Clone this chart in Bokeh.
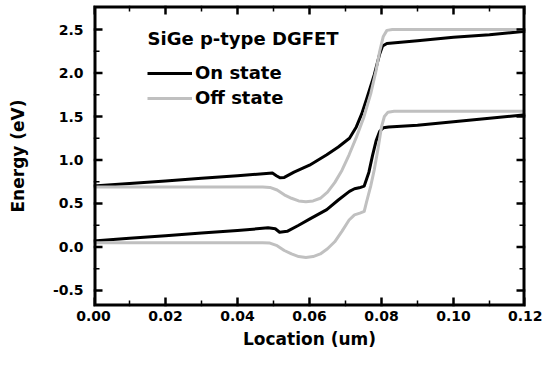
from bokeh.plotting import figure
from bokeh.models import FixedTicker, Legend, LegendItem, Range1d, BoxAnnotation, Label
from bokeh.embed import file_html
from bokeh.resources import INLINE

# ---- data ----
on_upper_x = [0.0, 0.01, 0.02, 0.03, 0.04, 0.048, 0.0497, 0.0508, 0.0518, 0.053, 0.0557, 0.060,
              0.0648, 0.068, 0.0711, 0.073, 0.0745, 0.076, 0.078, 0.0795, 0.0803, 0.0815,
              0.09, 0.10, 0.11, 0.12]
on_upper_y = [0.70, 0.73, 0.76, 0.79, 0.82, 0.845, 0.85, 0.82, 0.795, 0.80, 0.86, 0.94,
              1.06, 1.15, 1.25, 1.38, 1.53, 1.72, 1.98, 2.22, 2.31, 2.34,
              2.37, 2.41, 2.44, 2.48]

on_lower_x = [0.0, 0.01, 0.02, 0.03, 0.04, 0.0485, 0.0505, 0.0517, 0.0538, 0.057, 0.060,
              0.0648, 0.068, 0.0711, 0.0725, 0.0738, 0.0752, 0.0765, 0.0775, 0.0785, 0.0795,
              0.0805, 0.082, 0.09, 0.10, 0.11, 0.12]
on_lower_y = [0.07, 0.10, 0.13, 0.16, 0.19, 0.22, 0.21, 0.17, 0.18, 0.25, 0.32,
              0.43, 0.54, 0.64, 0.67, 0.68, 0.70, 0.86, 1.05, 1.22, 1.33,
              1.37, 1.38, 1.40, 1.44, 1.48, 1.52]

off_upper_x = [0.0, 0.047, 0.049, 0.051, 0.053, 0.055, 0.057, 0.059, 0.061, 0.063, 0.065,
               0.067, 0.069, 0.071, 0.073, 0.075, 0.077, 0.0785, 0.0795, 0.0805, 0.0815,
               0.083, 0.12]
off_upper_y = [0.69, 0.69, 0.685, 0.655, 0.60, 0.56, 0.53, 0.52, 0.53, 0.56, 0.63,
               0.74, 0.88, 1.06, 1.26, 1.48, 1.76, 2.03, 2.25, 2.42, 2.49,
               2.50, 2.50]

off_lower_x = [0.0, 0.047, 0.049, 0.051, 0.053, 0.055, 0.057, 0.059, 0.061, 0.063, 0.065,
               0.067, 0.069, 0.071, 0.0725, 0.074, 0.0752, 0.0758, 0.077, 0.078, 0.079,
               0.080, 0.0808, 0.0818, 0.0835, 0.12]
off_lower_y = [0.05, 0.05, 0.045, 0.015, -0.04, -0.08, -0.11, -0.12, -0.11, -0.08, -0.02,
               0.06, 0.18, 0.31, 0.37, 0.39, 0.41, 0.51, 0.70, 0.89, 1.12,
               1.38, 1.50, 1.55, 1.56, 1.56]

x_ticks = [0.0, 0.02, 0.04, 0.06, 0.08, 0.10, 0.12]
x_tick_labels = ["0.00", "0.02", "0.04", "0.06", "0.08", "0.10", "0.12"]
x_minor = [0.01, 0.03, 0.05, 0.07, 0.09, 0.11]
y_ticks = [-0.5, 0.0, 0.5, 1.0, 1.5, 2.0, 2.5]
y_tick_labels = ["-0.5", "0.0", "0.5", "1.0", "1.5", "2.0", "2.5"]
y_minor = [-0.25, 0.25, 0.75, 1.25, 1.75, 2.25]

x_lo, x_hi = 0.0, 0.12
y_lo, y_hi = -0.684, 2.776

legend_title = "SiGe p-type DGFET"
series_labels = ["On state", "Off state"]

FONT = "DejaVu Sans"
GREY = "#c0c0c0"

# frame geometry (px) used to convert tick sizes / label offsets
FRAME_W, FRAME_H = 432, 301
px_x = (x_hi - x_lo) / FRAME_W
px_y = (y_hi - y_lo) / FRAME_H

p = figure(width=542, height=352, output_backend="svg", toolbar_location=None,
           x_range=Range1d(x_lo, x_hi), y_range=Range1d(y_lo, y_hi),
           min_border_left=93, min_border_right=17, min_border_top=5, min_border_bottom=46,
           x_axis_label="Location (um)", y_axis_label="Energy (eV)")
p.grid.visible = False
p.outline_line_color = None


def style_axis(ax, ticks, minor, labels):
    ax.ticker = FixedTicker(ticks=ticks, minor_ticks=minor)
    ax.major_label_overrides = {t: l for t, l in zip(ticks, labels)}
    ax.axis_line_color = None
    ax.major_tick_line_color = None
    ax.minor_tick_line_color = None
    ax.major_tick_in = 0
    ax.major_tick_out = 0
    ax.minor_tick_in = 0
    ax.minor_tick_out = 0
    ax.major_label_text_font = FONT
    ax.major_label_text_font_style = "bold"
    ax.major_label_text_color = "black"
    ax.major_label_text_font_size = "14px"
    ax.axis_label_text_font = FONT
    ax.axis_label_text_font_style = "bold"
    ax.axis_label_text_font_size = "17px"
    ax.axis_label_text_color = "black"


xa = p.xaxis[0]
ya = p.yaxis[0]
style_axis(xa, x_ticks, x_minor, x_tick_labels)
style_axis(ya, y_ticks, y_minor, y_tick_labels)
xa.major_label_standoff = 4
ya.major_label_standoff = 10
xa.axis_label_standoff = 5
ya.axis_label_standoff = 22

# data curves
r_on1 = p.line(on_upper_x, on_upper_y, line_color="black", line_width=3, line_join="round")
r_on2 = p.line(on_lower_x, on_lower_y, line_color="black", line_width=3, line_join="round")
r_off1 = p.line(off_upper_x, off_upper_y, line_color=GREY, line_width=3, line_join="round")
r_off2 = p.line(off_lower_x, off_lower_y, line_color=GREY, line_width=3, line_join="round")

# inward ticks on all four sides, drawn as small filled bars from the tick arrays
MAJ_L, MIN_L = 9, 6        # tick length, px
MAJ_W, MIN_W = 2.5, 1.5    # tick thickness, px


def vticks(xs, length, width):
    half = width * px_x / 2
    left = [x - half for x in xs]
    right = [x + half for x in xs]
    p.quad(left=left, right=right, bottom=[y_lo] * len(xs), top=[y_lo + length * px_y] * len(xs),
           fill_color="black", line_color=None)
    p.quad(left=left, right=right, bottom=[y_hi - length * px_y] * len(xs), top=[y_hi] * len(xs),
           fill_color="black", line_color=None)


def hticks(ys, length, width):
    half = width * px_y / 2
    bottom = [y - half for y in ys]
    top = [y + half for y in ys]
    p.quad(left=[x_lo] * len(ys), right=[x_lo + length * px_x] * len(ys), bottom=bottom, top=top,
           fill_color="black", line_color=None)
    p.quad(left=[x_hi - length * px_x] * len(ys), right=[x_hi] * len(ys), bottom=bottom, top=top,
           fill_color="black", line_color=None)


vticks(x_ticks, MAJ_L, MAJ_W)
vticks(x_minor, MIN_L, MIN_W)
hticks(y_ticks, MAJ_L, MAJ_W)
hticks(y_minor, MIN_L, MIN_W)

# frame box (outer half clipped by the frame)
frame_box = BoxAnnotation(fill_alpha=0, line_color="black", line_width=6, line_alpha=1)
p.add_layout(frame_box)

# legend title as its own text, aligned with the legend samples
title_label = Label(x=x_lo + 54 * px_x, y=y_hi - 32.5 * px_y, text=legend_title,
                    text_font=FONT, text_font_style="bold", text_font_size="18px",
                    text_align="left", text_baseline="middle", text_color="black")
p.add_layout(title_label)

legend = Legend(items=[LegendItem(label=series_labels[0], renderers=[r_on1]),
                       LegendItem(label=series_labels[1], renderers=[r_off1])],
                location=(54, 198),
                background_fill_alpha=0, border_line_color=None,
                padding=0, margin=0, spacing=4,
                label_height=20, glyph_height=20, glyph_width=45, label_standoff=3,
                label_text_font=FONT, label_text_font_style="bold", label_text_font_size="18px",
                label_text_color="black")
p.add_layout(legend)

open("out.html", "w").write(file_html(p, INLINE))
